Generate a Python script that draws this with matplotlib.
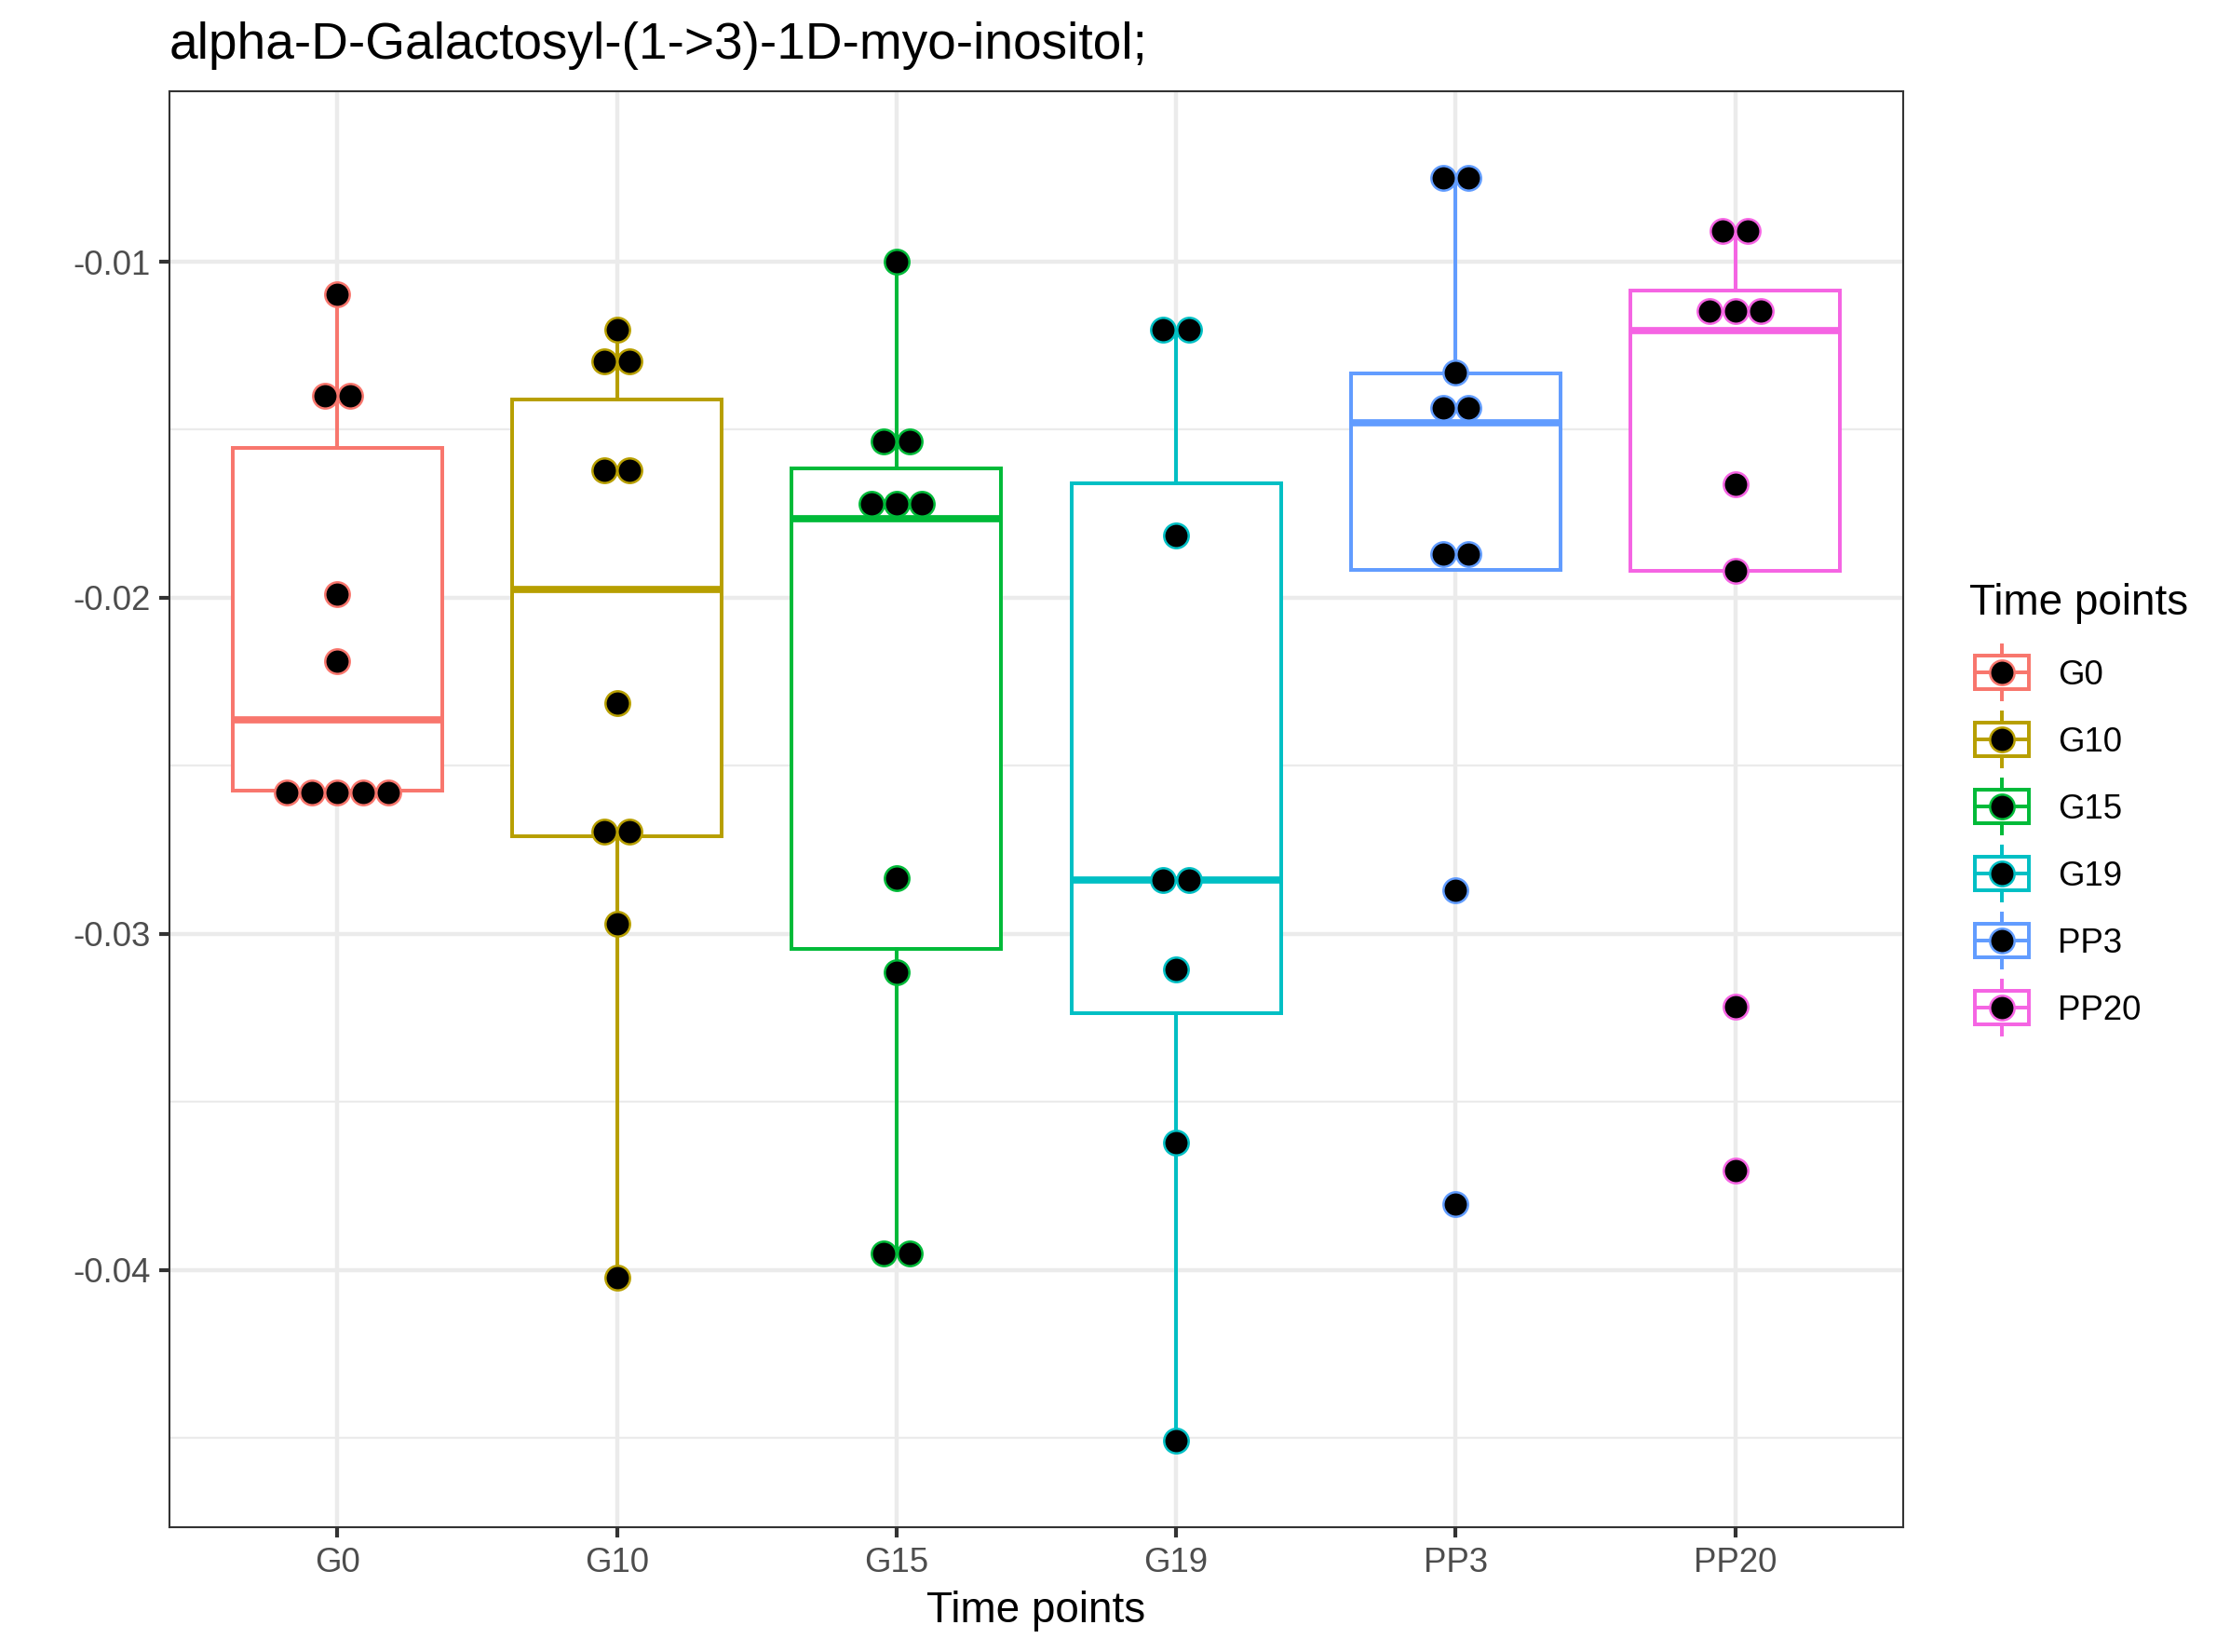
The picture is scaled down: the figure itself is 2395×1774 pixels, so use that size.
import numpy as np
import matplotlib
matplotlib.use("Agg")
import matplotlib.pyplot as plt
from matplotlib.patches import Rectangle
from matplotlib.lines import Line2D

plt.rcParams['font.family'] = ['Liberation Sans', 'DejaVu Sans']

# ---------------- data ----------------
groups = ['G0', 'G10', 'G15', 'G19', 'PP3', 'PP20']
colors = ['#F8766D', '#B79F00', '#00BA38', '#00BFC4', '#619CFF', '#F564E3']

# box statistics
q1 = [-0.02573, -0.02708, -0.03044, -0.03235, -0.01917, -0.01919]
med = [-0.02363, -0.01974, -0.01766, -0.02840, -0.01479, -0.01206]
q3 = [-0.01554, -0.01410, -0.01615, -0.01660, -0.01333, -0.01085]
whislo = [-0.02579, -0.04022, -0.03950, -0.04508, -0.01917, -0.01919]
whishi = [-0.01097, -0.01202, -0.01000, -0.01203, -0.00750, -0.00908]

# dot values (dotplot bins), repeated values are stacked side by side
pts_G0 = [-0.01097, -0.0140, -0.0140, -0.01989, -0.02189,
          -0.02579, -0.02579, -0.02579, -0.02579, -0.02579]
pts_G10 = [-0.01202, -0.01297, -0.01297, -0.0162, -0.0162,
           -0.02314, -0.02696, -0.02696, -0.02969, -0.04022]
pts_G15 = [-0.0100, -0.01535, -0.01535, -0.01719, -0.01719, -0.01719,
           -0.02835, -0.03114, -0.0395, -0.0395]
pts_G19 = [-0.01203, -0.01203, -0.01814, -0.0284, -0.0284,
           -0.03105, -0.0362, -0.04508]
pts_PP3 = [-0.0075, -0.0075, -0.01331, -0.01435, -0.01435,
           -0.01869, -0.01869, -0.02869, -0.03804]
pts_PP20 = [-0.00908, -0.00908, -0.01146, -0.01146, -0.01146,
            -0.01663, -0.01919, -0.03215, -0.03704]
points = [pts_G0, pts_G10, pts_G15, pts_G19, pts_PP3, pts_PP20]

yticks = [-0.04, -0.03, -0.02, -0.01]
ytick_labels = ['-0.04', '-0.03', '-0.02', '-0.01']
yminor = [-0.045, -0.035, -0.025, -0.015]

title = 'alpha-D-Galactosyl-(1->3)-1D-myo-inositol;'
xlab = 'Time points'
legend_title = 'Time points'

# ---------------- layout ----------------
W, H = 2395, 1774
DPI = 300
fig = plt.figure(figsize=(W / DPI, H / DPI), dpi=DPI)
fig.patch.set_facecolor('white')

def fx(x):
    return x / W

def fy(y):
    return 1 - y / H

pl, pr, pt, pb = 182, 2044, 98, 1640
ax = fig.add_axes([fx(pl), fy(pb), fx(pr) - fx(pl), fy(pt) - fy(pb)])

box_lw = 0.95
med_lw = 1.85
dot_s = 40
dot_ew = 0.6
dot_step = 0.091

positions = np.arange(len(groups))
stats = []
for i in range(len(groups)):
    stats.append(dict(med=med[i], q1=q1[i], q3=q3[i],
                      whislo=whislo[i], whishi=whishi[i], label=groups[i]))

bp = ax.bxp(stats, positions=positions, widths=0.75, showcaps=False,
            showfliers=False, patch_artist=True, manage_ticks=False)
for i, c in enumerate(colors):
    b = bp['boxes'][i]
    b.set_facecolor('white')
    b.set_edgecolor(c)
    b.set_linewidth(box_lw)
    b.set_zorder(3)
    bp['medians'][i].set_color(c)
    bp['medians'][i].set_linewidth(med_lw)
    bp['medians'][i].set_solid_capstyle('butt')
    bp['medians'][i].set_zorder(4)
    for w in bp['whiskers'][2 * i:2 * i + 2]:
        w.set_color(c)
        w.set_linewidth(box_lw)
        w.set_zorder(3)

for i, (vals, c) in enumerate(zip(points, colors)):
    uniq, counts = np.unique(np.array(vals), return_counts=True)
    xs, ys = [], []
    for v, k in zip(uniq, counts):
        offs = (np.arange(k) - (k - 1) / 2) * dot_step
        xs.extend(positions[i] + offs)
        ys.extend([v] * k)
    ax.scatter(xs, ys, s=dot_s, facecolor='black', edgecolor=c,
               linewidth=dot_ew, zorder=5)

ax.set_xlim(-0.6, len(groups) - 0.4)
ax.set_ylim(-0.04765, -0.00493)
ax.set_xticks(positions)
ax.set_xticklabels(groups)
ax.set_yticks(yticks)
ax.set_yticklabels(ytick_labels)
ax.set_yticks(yminor, minor=True)

ax.set_axisbelow(True)
ax.grid(which='major', axis='both', color='#EBEBEB', linewidth=1.07)
ax.grid(which='minor', axis='y', color='#EBEBEB', linewidth=0.53)
ax.tick_params(which='major', length=2.75, width=1.0, color='#333333',
               pad=2.2, labelsize=8.8, labelcolor='#4D4D4D')
ax.tick_params(which='minor', length=0)
for s in ax.spines.values():
    s.set_color('#333333')
    s.set_linewidth(0.5)

# titles
fig.text(fx(pl), fy(63), title, fontsize=13.2, ha='left', va='baseline')
fig.text(fx((pl + pr) / 2), fy(1742), xlab, fontsize=11, ha='center',
         va='baseline')

# ---------------- legend (drawn by hand) ----------------
fig.text(fx(2115), fy(660), legend_title, fontsize=11, ha='left',
         va='baseline')
key = 72
kx0 = 2114
ky0 = 686
fsz_px = 8.8 * DPI / 72
for i, (g, c) in enumerate(zip(groups, colors)):
    cy = ky0 + key / 2 + key * i
    cx = kx0 + key / 2
    rx0, rx1 = kx0 + 0.1 * key, kx0 + 0.9 * key
    ry0, ry1 = cy - 0.25 * key, cy + 0.25 * key
    fig.add_artist(Rectangle((fx(rx0), fy(ry1)), fx(rx1) - fx(rx0),
                             fy(ry0) - fy(ry1), transform=fig.transFigure,
                             facecolor='white', edgecolor=c,
                             linewidth=box_lw))
    fig.add_artist(Line2D([fx(rx0), fx(rx1)], [fy(cy), fy(cy)],
                          transform=fig.transFigure, color=c,
                          linewidth=box_lw))
    fig.add_artist(Line2D([fx(cx), fx(cx)], [fy(cy - 0.4 * key), fy(ry0)],
                          transform=fig.transFigure, color=c,
                          linewidth=box_lw))
    fig.add_artist(Line2D([fx(cx), fx(cx)], [fy(ry1), fy(cy + 0.4 * key)],
                          transform=fig.transFigure, color=c,
                          linewidth=box_lw))
    fig.add_artist(Line2D([fx(cx)], [fy(cy)], transform=fig.transFigure,
                          marker='o', markersize=np.sqrt(dot_s),
                          markerfacecolor='black', markeredgecolor=c,
                          markeredgewidth=dot_ew, linestyle='none'))
    fig.text(fx(2210), fy(cy + 0.358 * fsz_px), g, fontsize=8.8,
             ha='left', va='baseline')

fig.savefig('out.png', dpi=DPI, facecolor='white')
